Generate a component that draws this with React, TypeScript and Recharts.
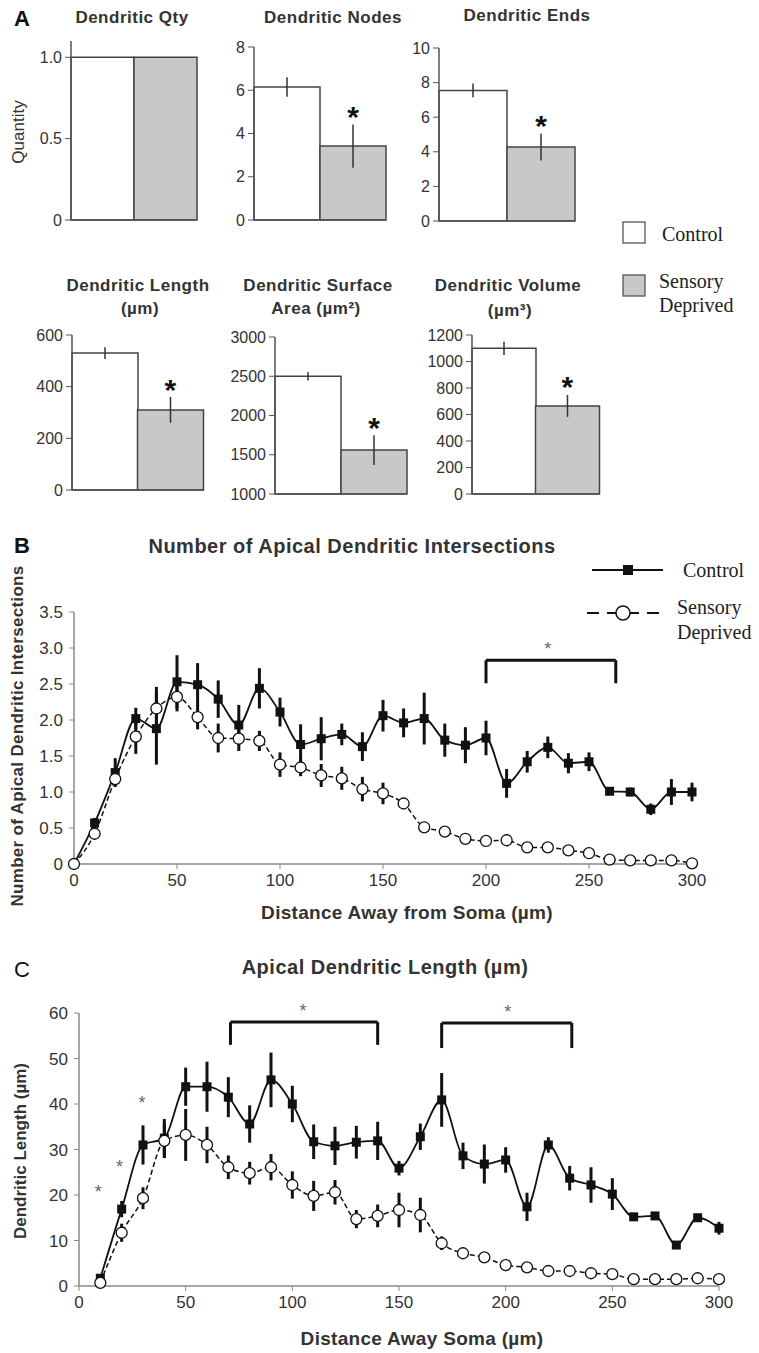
import React from 'react';
import { BarChart, Bar, Cell, XAxis, YAxis, ErrorBar, ReferenceDot, ReferenceLine, LineChart, Line } from 'recharts';

const SANS = '"Liberation Sans", Arial, sans-serif';
const SERIF = '"Liberation Serif", "Times New Roman", serif';

// panel A
const groups = ['Control', 'Sensory Deprived'];
const qty = [1.0, 1.0];
const nodes = [6.15, 3.42];
const nodesErr = [0.45, 1.0];
const ends = [7.55, 4.28];
const endsErr = [0.4, 0.78];
const lengthA = [530, 310];
const lengthErr = [23, 50];
const surface = [2500, 1560];
const surfaceErr = [55, 190];
const volume = [1100, 665];
const volumeErr = [50, 83];

// panel B - intersections
const distB = [0, 10, 20, 30, 40, 50, 60, 70, 80, 90, 100, 110, 120, 130, 140, 150, 160, 170, 180, 190, 200, 210, 220, 230, 240, 250, 260, 270, 280, 290, 300];
const ctrlB = [0, 0.57, 1.27, 2.02, 1.88, 2.53, 2.49, 2.29, 1.93, 2.44, 2.11, 1.66, 1.74, 1.8, 1.63, 2.06, 1.96, 2.02, 1.72, 1.65, 1.75, 1.12, 1.42, 1.62, 1.4, 1.42, 1.01, 1.0, 0.76, 1.0, 1.0];
const ctrlBErr = [0, 0.07, 0.2, 0.15, 0.5, 0.37, 0.3, 0.26, 0.28, 0.28, 0.2, 0.28, 0.3, 0.15, 0.2, 0.22, 0.2, 0.36, 0.23, 0.25, 0.24, 0.2, 0.15, 0.15, 0.14, 0.13, 0.03, 0.06, 0.08, 0.18, 0.13];
const sdB = [0, 0.42, 1.18, 1.77, 2.16, 2.32, 2.04, 1.75, 1.74, 1.71, 1.38, 1.34, 1.23, 1.19, 1.04, 0.98, 0.84, 0.51, 0.45, 0.35, 0.32, 0.33, 0.23, 0.23, 0.19, 0.15, 0.06, 0.05, 0.05, 0.05, 0.01];
const sdBErr = [0, 0.08, 0.1, 0.24, 0.3, 0.2, 0.17, 0.2, 0.17, 0.14, 0.17, 0.12, 0.16, 0.16, 0.17, 0.15, 0.05, 0.07, 0.04, 0.04, 0.03, 0.03, 0.02, 0.02, 0.02, 0.02, 0.01, 0.01, 0.01, 0.01, 0.01];
const ticksBx = [0, 50, 100, 150, 200, 250, 300];
const ticksBy = [0, 0.5, 1, 1.5, 2, 2.5, 3, 3.5];
const bracketsB = [{ from: 200, to: 263, top: 2.83, foot: 2.51 }];
const starsB = [{ x: 230, y: 3.04 }];

// panel C - length
const distC = [10, 20, 30, 40, 50, 60, 70, 80, 90, 100, 110, 120, 130, 140, 150, 160, 170, 180, 190, 200, 210, 220, 230, 240, 250, 260, 270, 280, 290, 300];
const ctrlC = [1.7, 16.9, 31, 32.5, 43.8, 43.8, 41.5, 35.6, 45.3, 40, 31.7, 30.8, 31.6, 31.9, 25.9, 32.8, 40.9, 28.6, 26.8, 27.7, 17.4, 31, 23.7, 22.2, 20.2, 15.2, 15.4, 9, 15, 12.7];
const ctrlCErr = [0.5, 1.8, 4.3, 4.2, 4.2, 5.5, 4.4, 4.1, 6, 4, 3.8, 4.2, 3.6, 4.2, 1.6, 2.9, 5.9, 2.9, 4.3, 2.8, 3.1, 1.7, 2.7, 3.9, 3.5, 0.7, 0.5, 0.5, 0.5, 1.4];
const sdC = [0.7, 11.7, 19.3, 31.9, 33.2, 31, 26.1, 24.8, 26.1, 22.2, 19.8, 20.6, 14.7, 15.4, 16.7, 15.6, 9.4, 7.2, 6.3, 4.6, 4.1, 3.3, 3.3, 2.8, 2.6, 1.5, 1.5, 1.5, 1.7, 1.5];
const sdCErr = [0.3, 2, 2.4, 3.8, 5.7, 4, 2.6, 2.5, 2.9, 3, 3.3, 2.7, 2, 2.5, 3.8, 3.8, 1.5, 1, 1, 0.5, 0.5, 0.4, 0.4, 0.4, 0.4, 0.3, 0.3, 0.3, 0.3, 0.3];
const ticksCx = [0, 50, 100, 150, 200, 250, 300];
const ticksCy = [0, 10, 20, 30, 40, 50, 60];
const bracketsC = [
  { from: 71, to: 140, top: 58, foot: 53 },
  { from: 170, to: 231, top: 57.8, foot: 52.3 },
];
const starsC = [
  { x: 105, y: 61.3 },
  { x: 201, y: 61 },
  { x: 9, y: 21.5 },
  { x: 19, y: 27 },
  { x: 29.5, y: 41 },
];

const AXIS = '#555';

function Txt({ x, y, children, size = 17, bold = true, family = SANS, rotate = false, align = 'center', spacing = 0, color = '#333' }: any) {
  const tx = align === 'center' ? '-50%' : '0';
  return (
    <div
      style={{
        position: 'absolute',
        left: x,
        top: y,
        transform: `translate(${tx}, -50%)${rotate ? ' rotate(-90deg)' : ''}`,
        transformOrigin: align === 'center' ? 'center' : 'left center',
        fontFamily: family,
        fontSize: size,
        fontWeight: bold ? 'bold' : 'normal',
        letterSpacing: spacing,
        color,
        whiteSpace: 'nowrap',
        lineHeight: 1,
      }}
    >
      {children}
    </div>
  );
}

function BarPanel({ l, t, r, b, values, errors, domain, ticks, fmt }: any) {
  const data = groups.map((g, i) => ({ name: g, v: values[i], e: errors ? errors[i] : 0 }));
  const yw = 60;
  const m = { top: 14, right: 4, bottom: 14, left: 0 };
  return (
    <div style={{ position: 'absolute', left: l - yw, top: t - m.top }}>
      <BarChart
        width={yw + (r - l) + m.right}
        height={m.top + (b - t) + 1 + m.bottom}
        data={data}
        margin={m}
        barCategoryGap={0}
        barGap={0}
      >
        <XAxis dataKey="name" tick={false} tickLine={false} height={1} axisLine={{ stroke: AXIS, strokeWidth: 1.5 }} />
        <YAxis
          width={yw}
          domain={domain}
          ticks={ticks}
          tickFormatter={fmt}
          tickSize={6}
          tickMargin={3}
          axisLine={{ stroke: AXIS, strokeWidth: 1.5 }}
          tickLine={{ stroke: AXIS }}
          tick={{ fill: '#333', fontSize: 16, fontFamily: SANS }}
          interval={0}
        />
        <Bar dataKey="v" stroke="#444" strokeWidth={1.5} isAnimationActive={false}>
          {data.map((d, i) => (
            <Cell key={d.name} fill={i === 0 ? '#ffffff' : '#c8c8c8'} />
          ))}
          {errors && <ErrorBar dataKey="e" width={0} stroke="#333" strokeWidth={1.5} />}
        </Bar>
        {errors && (
          <ReferenceDot
            x={groups[1]}
            y={values[1] + errors[1]}
            r={0}
            ifOverflow="visible"
            shape={(p: any) => (
              <text x={p.cx} y={p.cy + 2.5} textAnchor="middle" fontSize={30} fontWeight="bold" fontFamily={SANS} fill="#111">
                *
              </text>
            )}
          />
        )}
      </BarChart>
    </div>
  );
}

const squareDot = (p: any) => (
  <rect key={`s${p.index}`} x={p.cx - 4.5} y={p.cy - 4.5} width={9} height={9} fill="#111" />
);
const circleDot = (p: any) => (
  <circle key={`c${p.index}`} cx={p.cx} cy={p.cy} r={5.5} fill="#fff" stroke="#111" strokeWidth={1.3} />
);
const smallStar = (p: any) => (
  <text x={p.cx} y={p.cy + 10} textAnchor="middle" fontSize={18} fontFamily={SANS} fill="#666">
    *
  </text>
);

function LinePanel({ l, t, r, b, data, xTicks, yTicks, yDomain, fmt, brackets, stars }: any) {
  const yw = 60;
  const m = { top: 30, right: 30, bottom: 0, left: 0 };
  const xh = 40;
  return (
    <div style={{ position: 'absolute', left: l - yw, top: t - m.top }}>
      <LineChart width={yw + (r - l) + m.right} height={m.top + (b - t) + xh} data={data} margin={m}>
        <XAxis
          dataKey="x"
          type="number"
          domain={[0, 300]}
          ticks={xTicks}
          interval={0}
          height={xh}
          tickSize={5}
          tickMargin={5}
          axisLine={{ stroke: '#888', strokeWidth: 1.5 }}
          tickLine={{ stroke: '#888' }}
          tick={{ fill: '#333', fontSize: 17, fontFamily: SANS }}
        />
        <YAxis
          width={yw}
          domain={yDomain}
          ticks={yTicks}
          interval={0}
          tickFormatter={fmt}
          tickSize={5}
          tickMargin={6}
          axisLine={{ stroke: '#888', strokeWidth: 1.5 }}
          tickLine={{ stroke: '#888' }}
          tick={{ fill: '#333', fontSize: 17, fontFamily: SANS }}
        />
        {brackets.map((k: any, i: number) => (
          <ReferenceLine key={`bt${i}`} segment={[{ x: k.from, y: k.top }, { x: k.to, y: k.top }]} stroke="#111" strokeWidth={3} ifOverflow="visible" />
        ))}
        {brackets.map((k: any, i: number) => (
          <ReferenceLine key={`bl${i}`} segment={[{ x: k.from, y: k.top }, { x: k.from, y: k.foot }]} stroke="#111" strokeWidth={3} ifOverflow="visible" />
        ))}
        {brackets.map((k: any, i: number) => (
          <ReferenceLine key={`br${i}`} segment={[{ x: k.to, y: k.top }, { x: k.to, y: k.foot }]} stroke="#111" strokeWidth={3} ifOverflow="visible" />
        ))}
        {stars.map((s: any, i: number) => (
          <ReferenceDot key={`st${i}`} x={s.x} y={s.y} r={0} ifOverflow="visible" shape={smallStar} />
        ))}
        <Line dataKey="ctrl" type="monotone" stroke="#111" strokeWidth={1.8} dot={squareDot} activeDot={false} isAnimationActive={false}>
          <ErrorBar dataKey="ctrlErr" width={0} stroke="#111" strokeWidth={3} direction="y" />
        </Line>
        <Line dataKey="sd" type="monotone" stroke="#111" strokeWidth={1.5} strokeDasharray="5 3" dot={circleDot} activeDot={false} isAnimationActive={false}>
          <ErrorBar dataKey="sdErr" width={0} stroke="#111" strokeWidth={3} direction="y" />
        </Line>
      </LineChart>
    </div>
  );
}

const dataB = distB.map((x, i) => ({ x, ctrl: ctrlB[i], ctrlErr: ctrlBErr[i], sd: sdB[i], sdErr: sdBErr[i] }));
const dataC = distC.map((x, i) => ({ x, ctrl: ctrlC[i], ctrlErr: ctrlCErr[i], sd: sdC[i], sdErr: sdCErr[i] }));

const fmt1 = (v: number) => (v === 0 ? '0' : v.toFixed(1));

export default function App() {
  return (
    <div style={{ position: 'absolute', left: 0, top: 0, width: 759, height: 1353, background: '#fff', overflow: 'hidden' }}>
      {/* panel A */}
      <Txt x={22} y={19} size={22} color="#111">A</Txt>
      <Txt x={132} y={17} spacing={0.5}>Dendritic Qty</Txt>
      <Txt x={333} y={17} spacing={0.5}>Dendritic Nodes</Txt>
      <Txt x={527} y={15} spacing={0.5}>Dendritic Ends</Txt>
      <Txt x={18} y={132} size={17} bold={false} rotate>Quantity</Txt>
      <BarPanel l={71} t={41} r={197} b={220} values={qty} domain={[0, 1.1]} ticks={[0, 0.5, 1]} fmt={fmt1} />
      <BarPanel l={254} t={47} r={386} b={220} values={nodes} errors={nodesErr} domain={[0, 8]} ticks={[0, 2, 4, 6, 8]} />
      <BarPanel l={439} t={48} r={575} b={221} values={ends} errors={endsErr} domain={[0, 10]} ticks={[0, 2, 4, 6, 8, 10]} />

      <Txt x={138} y={285} spacing={0.5}>Dendritic Length</Txt>
      <Txt x={140} y={308} spacing={0.5}>(µm)</Txt>
      <Txt x={318} y={285} spacing={0.5}>Dendritic Surface</Txt>
      <Txt x={316} y={308} spacing={0.5}>Area (µm²)</Txt>
      <Txt x={508} y={285} spacing={0.5}>Dendritic Volume</Txt>
      <Txt x={510} y={310} spacing={0.5}>(µm³)</Txt>
      <BarPanel l={72} t={335} r={203} b={490} values={lengthA} errors={lengthErr} domain={[0, 600]} ticks={[0, 200, 400, 600]} />
      <BarPanel l={275} t={337} r={407} b={494} values={surface} errors={surfaceErr} domain={[1000, 3000]} ticks={[1000, 1500, 2000, 2500, 3000]} />
      <BarPanel l={472} t={335} r={599} b={494} values={volume} errors={volumeErr} domain={[0, 1200]} ticks={[0, 200, 400, 600, 800, 1000, 1200]} />

      {/* legend A */}
      <svg style={{ position: 'absolute', left: 620, top: 218 }} width={30} height={82}>
        <rect x={3} y={4} width={22} height={21} fill="#fff" stroke="#555" strokeWidth={1.3} />
        <rect x={3} y={57} width={22} height={21} fill="#c8c8c8" stroke="#555" strokeWidth={1.3} />
      </svg>
      <Txt x={662} y={234} size={20} bold={false} family={SERIF} align="left" color="#222">Control</Txt>
      <Txt x={659} y={281} size={20} bold={false} family={SERIF} align="left" color="#222">Sensory</Txt>
      <Txt x={659} y={305} size={20} bold={false} family={SERIF} align="left" color="#222">Deprived</Txt>

      {/* panel B */}
      <Txt x={22} y={546} size={22} color="#111">B</Txt>
      <Txt x={352} y={546} size={20} spacing={0.5}>Number of Apical Dendritic Intersections</Txt>
      <Txt x={17} y={736} size={17} spacing={0.3} rotate>Number of Apical Dendritic Intersections</Txt>
      <LinePanel l={74} t={612} r={692} b={864} data={dataB} xTicks={ticksBx} yTicks={ticksBy} yDomain={[0, 3.5]} fmt={fmt1} brackets={bracketsB} stars={starsB} />
      <Txt x={407} y={912} size={19} spacing={0.3}>Distance Away from Soma (µm)</Txt>
      <svg style={{ position: 'absolute', left: 580, top: 555 }} width={90} height={70}>
        <line x1={12} y1={15} x2={83} y2={15} stroke="#111" strokeWidth={2} />
        <rect x={43} y={10} width={10} height={10} fill="#111" />
        <line x1={7} y1={58} x2={83} y2={58} stroke="#111" strokeWidth={2} strokeDasharray="12 8" />
        <circle cx={43} cy={58} r={7} fill="#fff" stroke="#111" strokeWidth={1.5} />
      </svg>
      <Txt x={683} y={570} size={20} bold={false} family={SERIF} align="left" color="#222">Control</Txt>
      <Txt x={677} y={607} size={20} bold={false} family={SERIF} align="left" color="#222">Sensory</Txt>
      <Txt x={677} y={632} size={20} bold={false} family={SERIF} align="left" color="#222">Deprived</Txt>

      {/* panel C */}
      <Txt x={22} y={970} size={22} bold={false} color="#111">C</Txt>
      <Txt x={385} y={967} size={20} spacing={0.5}>Apical Dendritic Length (µm)</Txt>
      <Txt x={20} y={1151} size={17} rotate>Dendritic Length (µm)</Txt>
      <LinePanel l={79} t={1013} r={719} b={1286} data={dataC} xTicks={ticksCx} yTicks={ticksCy} yDomain={[0, 60]} brackets={bracketsC} stars={starsC} />
      <Txt x={422} y={1338} size={19} spacing={0.3}>Distance Away Soma (µm)</Txt>
    </div>
  );
}
